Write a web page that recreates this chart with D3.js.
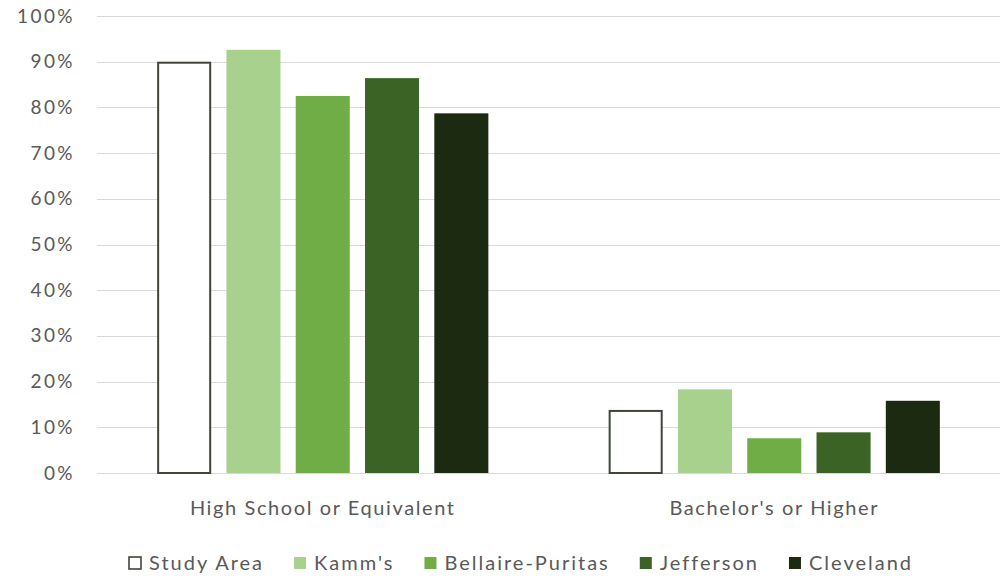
<!DOCTYPE html>
<html>
<head>
<meta charset="utf-8">
<script src="https://cdn.jsdelivr.net/npm/d3@7"></script>
<style>
  html, body { margin: 0; padding: 0; background: #fff; }
  svg text { font-family: Lato, "Open Sans", sans-serif; fill: #595959; }
</style>
</head>
<body>
<svg id="chart" width="1006" height="576"></svg>
<script>
// Educational attainment by area
const categories = ["High School or Equivalent", "Bachelor's or Higher"];
const seriesNames = ["Study Area", "Kamm's", "Bellaire-Puritas", "Jefferson", "Cleveland"];
const highSchool = [0.90, 0.926, 0.825, 0.864, 0.787];
const bachelors = [0.138, 0.183, 0.076, 0.089, 0.158];
const yTicks = [0, 0.1, 0.2, 0.3, 0.4, 0.5, 0.6, 0.7, 0.8, 0.9, 1.0];
const seriesColors = ["#ffffff", "#a9d18e", "#70ad47", "#3b6326", "#1c2a12"];

const valuesByCategory = [highSchool, bachelors];

const svg = d3.select("#chart");
const margin = { left: 97, right: 6, top: 16, bottom: 103 };
const W = 1006, H = 576;

const y = d3.scaleLinear().domain([0, 1]).range([H - margin.bottom, margin.top]);
const x0 = d3.scaleBand().domain(categories).range([margin.left, W - margin.right]).padding(0);
const x1 = d3.scaleBand().domain(seriesNames).range([0, x0.bandwidth()])
  .paddingInner(0.22).paddingOuter(0.868);
const color = d3.scaleOrdinal().domain(seriesNames).range(seriesColors);

// horizontal gridlines
svg.append("g")
  .selectAll("line")
  .data(yTicks)
  .join("line")
  .attr("x1", margin.left)
  .attr("x2", W - margin.right)
  .attr("y1", d => Math.round(y(d)) + 0.5)
  .attr("y2", d => Math.round(y(d)) + 0.5)
  .attr("stroke", "#d9d9d9")
  .attr("stroke-width", 1.2);

// y axis labels
const yAxis = d3.axisLeft(y).tickValues(yTicks).tickFormat(d3.format(".0%")).tickSize(0).tickPadding(0);
const yg = svg.append("g").attr("transform", `translate(75,0)`).call(yAxis);
yg.select(".domain").remove();
yg.selectAll("text")
  .attr("font-size", 19)
  .style("font-family", "Lato, sans-serif")
  .style("letter-spacing", "2.4px")
  .attr("fill", "#595959");

// bars
const groups = svg.append("g")
  .selectAll("g")
  .data(categories.map((c, i) => ({ cat: c, vals: valuesByCategory[i] })))
  .join("g")
  .attr("transform", d => `translate(${x0(d.cat)},0)`);

groups.selectAll("rect")
  .data(d => d.vals.map((v, j) => ({ name: seriesNames[j], value: v })))
  .join("rect")
  .attr("x", d => x1(d.name) + (d.name === "Study Area" ? 1 : 0))
  .attr("width", d => x1.bandwidth() - (d.name === "Study Area" ? 2 : 0))
  .attr("y", d => y(d.value) + (d.name === "Study Area" ? 1 : 0))
  .attr("height", d => y(0) - y(d.value) - (d.name === "Study Area" ? 1 : 0))
  .attr("fill", d => color(d.name))
  .attr("stroke", d => d.name === "Study Area" ? "#3d4639" : "none")
  .attr("stroke-width", 2);

// category labels
const xAxis = d3.axisBottom(x0).tickSize(0).tickPadding(0);
const xg = svg.append("g").attr("transform", `translate(0,${H - margin.bottom})`).call(xAxis);
xg.select(".domain").remove();
xg.selectAll("text")
  .attr("font-size", 20)
  .attr("dy", 0)
  .attr("y", 42)
  .style("font-family", "Lato, sans-serif")
  .style("letter-spacing", "1.6px")
  .attr("fill", "#595959");

// legend
const legend = svg.append("g").attr("transform", "translate(0,563)");
const items = legend.selectAll("g").data(seriesNames).join("g");
items.append("rect")
  .attr("width", 12).attr("height", 12).attr("y", -6)
  .attr("fill", d => color(d))
  .attr("stroke", d => d === "Study Area" ? "#3d4639" : "none")
  .attr("stroke-width", 1.6);
items.append("text")
  .attr("x", 20)
  .attr("dy", "0.35em")
  .attr("font-size", 20)
  .style("letter-spacing", "2px")
  .text(d => d);

let cursor = 0;
const offsets = [];
items.each(function () {
  offsets.push(cursor);
  const tw = d3.select(this).select("text").node().getComputedTextLength();
  cursor += 20 + tw + 30;
});
const totalW = cursor - 30;
const startX = 521 - totalW / 2;
items.attr("transform", (d, i) => `translate(${startX + offsets[i]},0)`);
</script>
</body>
</html>
